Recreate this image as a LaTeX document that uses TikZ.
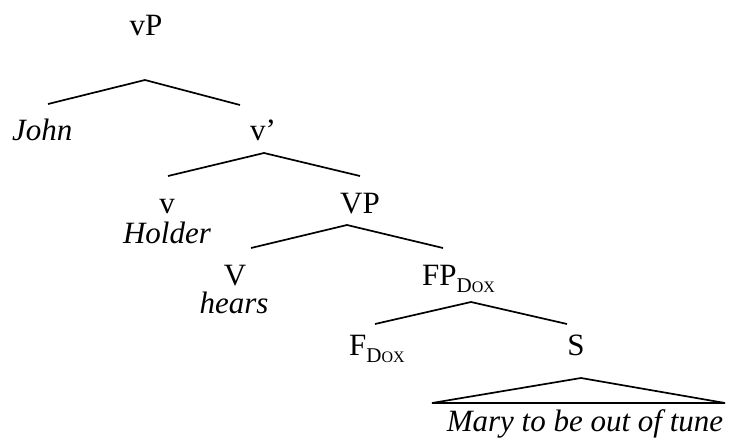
\documentclass[tikz,border=0pt]{standalone}
\usepackage{fontspec}
\setmainfont{Liberation Serif}[ItalicFont={Liberation Serif Italic}]
\newfontfamily\itfont{Liberation Serif Italic}
\newcommand{\dox}{\raisebox{-7pt}{\fontsize{21}{21}\selectfont D\fontsize{16}{16}\selectfont OX}}
\begin{document}
\begin{tikzpicture}[x=1pt,y=-1pt,
  lbl/.style={font=\fontsize{31}{35}\selectfont, inner sep=0pt, anchor=base},
  it/.style={lbl, font=\fontsize{31}{35}\selectfont\itfont},
  br/.style={line width=1.7pt}]
\useasboundingbox (0,0) rectangle (734,439);
% labels
\node[lbl] (vP) at (146,35) {vP};
\node[it, anchor=base west] (John) at (12,140) {John};
\node[lbl] (v1) at (263,140) {v’};
\node[lbl] (v) at (167,213) {v};
\node[it] (Holder) at (167,243) {Holder};
\node[lbl] (VP) at (360,213) {VP};
\node[lbl] (V) at (235,285) {V};
\node[it] (hears) at (234,313) {hears};
\node[lbl, anchor=base west] (FP) at (422,285) {FP\dox};
\node[lbl, anchor=base west] (F) at (349,355) {F\dox};
\node[lbl] (S) at (576,355) {S};
\node[it] (Mary) at (585,431) {Mary to be out of tune};
% branch points
\coordinate (a1) at (145,80);  \coordinate (l1) at (48,104);  \coordinate (r1) at (240,105);
\coordinate (a2) at (264,153); \coordinate (l2) at (168,176); \coordinate (r2) at (360,176);
\coordinate (a3) at (347,225); \coordinate (l3) at (251,248); \coordinate (r3) at (443,248);
\coordinate (a4) at (471,302); \coordinate (l4) at (375,324); \coordinate (r4) at (567,324);
\coordinate (a5) at (581,378); \coordinate (l5) at (432,403); \coordinate (r5) at (725,403);
\draw[br] (l1) -- (a1) -- (r1);
\draw[br] (l2) -- (a2) -- (r2);
\draw[br] (l3) -- (a3) -- (r3);
\draw[br] (l4) -- (a4) -- (r4);
\draw[br] (l5) -- (a5) -- (r5) -- cycle;
\end{tikzpicture}
\end{document}
